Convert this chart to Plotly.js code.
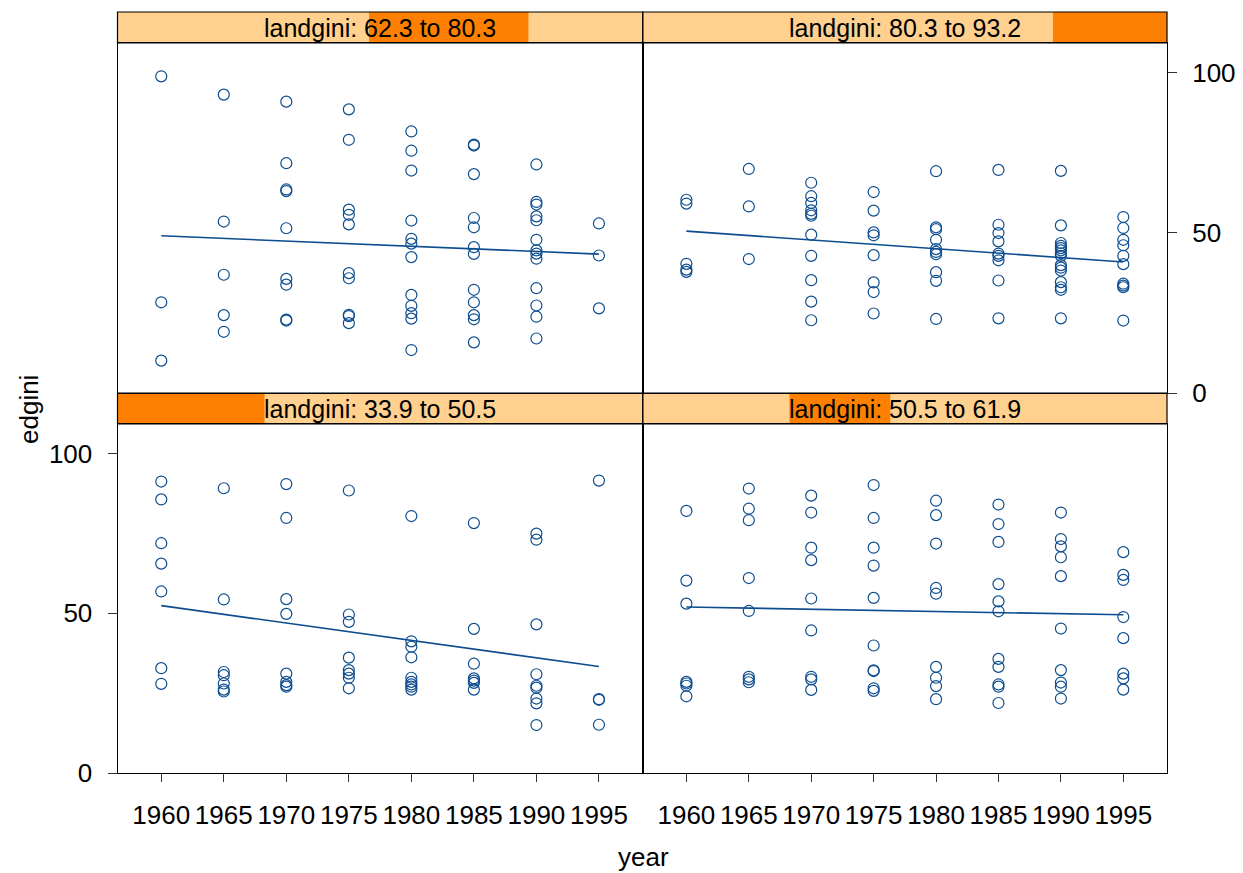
<!DOCTYPE html>
<html>
<head>
<meta charset="utf-8">
<script src="https://cdn.plot.ly/plotly-3.0.1.min.js"></script>
<style>html,body{margin:0;padding:0;background:#fff;}#chart{width:1243px;height:873px;}</style>
</head>
<body>
<div id="chart"></div>
<script>
// ---------- data ----------
const yearTicks = [1960, 1965, 1970, 1975, 1980, 1985, 1990, 1995];

// shingle levels of landgini (panel order: bottom-left, bottom-right, top-left, top-right)
const landginiLevels = [[33.9, 50.5], [50.5, 61.9], [62.3, 80.3], [80.3, 93.2]];

// edgini values per year (index matches yearTicks)
const edginiLow = [ // landgini 33.9 to 50.5
  [91.2, 85.6, 71.9, 65.5, 56.8, 32.8, 27.9],
  [89.1, 54.3, 31.6, 30.6, 28.0, 26.1, 25.5],
  [90.4, 79.8, 54.4, 49.8, 31.1, 28.5, 27.5, 27.0],
  [88.4, 49.6, 47.3, 36.1, 32.2, 31.1, 29.8, 26.5],
  [80.4, 41.2, 39.5, 36.2, 29.8, 28.5, 27.7, 27.0, 26.1],
  [78.2, 45.1, 34.2, 29.6, 28.9, 28.2, 26.1],
  [74.9, 73.0, 46.5, 30.9, 27.3, 26.7, 23.3, 21.8, 15.0],
  [91.5, 23.1, 22.9, 15.1]
];
const edginiMidLow = [ // landgini 50.5 to 61.9
  [82.0, 60.2, 53.0, 28.5, 28.0, 27.3, 24.0],
  [89.0, 82.7, 79.1, 61.0, 50.7, 30.1, 29.3, 28.4],
  [86.8, 81.5, 70.5, 66.6, 54.6, 44.6, 30.1, 29.3, 26.0],
  [90.1, 79.8, 70.5, 64.9, 54.8, 39.9, 32.1, 31.9, 26.5, 25.7],
  [85.2, 80.7, 71.8, 57.9, 56.1, 33.2, 29.8, 27.2, 23.1],
  [84.0, 77.9, 72.3, 59.1, 53.7, 50.6, 35.7, 33.2, 27.7, 27.0, 21.9],
  [81.5, 73.2, 70.9, 67.5, 61.6, 45.2, 32.2, 28.3, 27.0, 23.3],
  [69.1, 62.0, 60.4, 48.8, 42.2, 31.1, 29.6, 26.1]
];
const edginiMidHigh = [ // landgini 62.3 to 80.3
  [98.8, 28.3, 10.1],
  [93.1, 53.5, 36.9, 24.3, 19.1],
  [90.9, 71.7, 63.5, 63.0, 51.4, 35.6, 33.8, 22.9, 22.6],
  [88.5, 79.0, 57.2, 55.6, 52.6, 37.4, 35.8, 24.4, 24.0, 21.8],
  [81.6, 75.6, 69.4, 53.8, 48.1, 46.6, 42.4, 30.6, 27.2, 24.9, 23.2, 13.4],
  [77.5, 77.2, 68.3, 54.6, 51.7, 45.5, 43.4, 32.2, 28.3, 24.3, 23.0, 15.8],
  [71.3, 59.6, 58.8, 55.1, 53.9, 47.8, 44.5, 43.5, 41.9, 32.7, 27.3, 23.8, 17.0],
  [52.9, 42.9, 26.4]
];
const edginiHigh = [ // landgini 80.3 to 93.2
  [60.3, 59.1, 40.3, 38.5, 37.8],
  [69.9, 58.2, 41.8],
  [65.6, 61.4, 59.3, 57.0, 55.9, 55.3, 49.4, 42.8, 35.2, 28.5, 22.7],
  [62.7, 56.9, 50.1, 49.2, 43.0, 34.5, 31.5, 24.8],
  [69.2, 51.7, 51.1, 47.8, 44.9, 44.0, 43.3, 37.7, 35.0, 23.1],
  [69.6, 52.5, 49.9, 47.3, 43.5, 42.8, 41.4, 35.1, 23.3],
  [69.3, 52.3, 46.8, 45.9, 45.2, 44.5, 43.6, 42.8, 39.9, 39.1, 38.2, 34.6, 33.0, 32.2, 23.3],
  [54.9, 51.5, 47.8, 46.1, 42.8, 40.2, 34.1, 33.5, 33.0, 22.6]
];
const yTicks = [0, 50, 100];

// ---------- geometry (pixels) ----------
const W = 1243, H = 873;
const colX = [[117.5, 642.7], [642.7, 1167]];
const rowPlot = {bottom: [424, 773], top: [43, 393]};
const rowStrip = {bottom: [393, 424], top: [12, 43]};
const fx = v => v / W;
const fy = v => 1 - v / H;

const panels = [
  {data: edginiLow,     lev: landginiLevels[0], col: 0, row: 'bottom', ax: ''},
  {data: edginiMidLow,  lev: landginiLevels[1], col: 1, row: 'bottom', ax: '2'},
  {data: edginiMidHigh, lev: landginiLevels[2], col: 0, row: 'top',    ax: '3'},
  {data: edginiHigh,    lev: landginiLevels[3], col: 1, row: 'top',    ax: '4'}
];

const blue = '#0d4d8f';
const stripLight = '#ffd08e';
const stripDark = '#ff8000';
const fontFam = 'Liberation Sans, Arial, sans-serif';

const allLev = landginiLevels.flat();
const levMin = Math.min(...allLev), levMax = Math.max(...allLev);

const traces = [];
const shapes = [];
const annotations = [];
const layout = {
  width: W, height: H,
  margin: {l: 0, r: 0, t: 0, b: 0},
  paper_bgcolor: '#fff', plot_bgcolor: '#fff',
  showlegend: false,
  font: {family: fontFam, color: '#000'}
};

panels.forEach(p => {
  const xs = [], ys = [];
  p.data.forEach((vals, i) => vals.forEach(v => { xs.push(yearTicks[i]); ys.push(v); }));
  traces.push({
    type: 'scatter', mode: 'markers', x: xs, y: ys,
    xaxis: 'x' + p.ax, yaxis: 'y' + p.ax,
    marker: {symbol: 'circle-open', size: 11, color: blue, line: {width: 1.2, color: blue}},
    hoverinfo: 'x+y'
  });
  // least-squares regression line over data range
  const n = xs.length;
  const mx = xs.reduce((a, b) => a + b, 0) / n;
  const my = ys.reduce((a, b) => a + b, 0) / n;
  let sxy = 0, sxx = 0;
  for (let i = 0; i < n; i++) { sxy += (xs[i] - mx) * (ys[i] - my); sxx += (xs[i] - mx) ** 2; }
  const b = sxy / sxx, a = my - b * mx;
  const x0 = Math.min(...xs), x1 = Math.max(...xs);
  traces.push({
    type: 'scatter', mode: 'lines', x: [x0, x1], y: [a + b * x0, a + b * x1],
    xaxis: 'x' + p.ax, yaxis: 'y' + p.ax,
    line: {color: blue, width: 1.6}, hoverinfo: 'skip'
  });

  const cx = colX[p.col], ry = rowPlot[p.row], sy = rowStrip[p.row];
  const isBottom = p.row === 'bottom';
  layout['xaxis' + p.ax] = {
    domain: [fx(cx[0]), fx(cx[1])], anchor: 'y' + p.ax,
    range: [1956.5, 1998.5],
    tickmode: 'array', tickvals: yearTicks, ticktext: yearTicks.map(String),
    ticks: isBottom ? 'outside' : '', ticklen: 8, tickwidth: 1, tickcolor: '#333',
    showticklabels: isBottom, tickfont: {size: 26, family: fontFam, color: '#000'},
    ticklabelstandoff: 11,
    showline: true, mirror: true, linecolor: '#000', linewidth: 1,
    showgrid: false, zeroline: false, fixedrange: true
  };
  const yShow = (p.col === 0 && isBottom) || (p.col === 1 && !isBottom);
  layout['yaxis' + p.ax] = {
    domain: [fy(ry[1]), fy(ry[0])], anchor: 'x' + p.ax,
    range: [0, 109.2],
    side: p.col === 0 ? 'left' : 'right',
    tickmode: 'array', tickvals: yTicks, ticktext: yTicks.map(String),
    ticks: yShow ? 'outside' : '', ticklen: 9, tickwidth: 1, tickcolor: '#333',
    showticklabels: yShow, tickfont: {size: 26, family: fontFam, color: '#000'},
    ticklabelstandoff: 10,
    showline: true, mirror: true, linecolor: '#000', linewidth: 1,
    showgrid: false, zeroline: false, fixedrange: true
  };

  // strip
  const stripW = cx[1] - cx[0];
  const d0 = cx[0] + stripW * (p.lev[0] - levMin) / (levMax - levMin);
  const d1 = cx[0] + stripW * (p.lev[1] - levMin) / (levMax - levMin);
  shapes.push({type: 'rect', xref: 'paper', yref: 'paper', x0: fx(cx[0]), x1: fx(cx[1]), y0: fy(sy[1]), y1: fy(sy[0]),
    fillcolor: stripLight, line: {width: 0}, layer: 'below'});
  shapes.push({type: 'rect', xref: 'paper', yref: 'paper', x0: fx(d0), x1: fx(d1), y0: fy(sy[1]), y1: fy(sy[0]),
    fillcolor: stripDark, line: {width: 0}, layer: 'below'});
  shapes.push({type: 'rect', xref: 'paper', yref: 'paper', x0: fx(cx[0]), x1: fx(cx[1]), y0: fy(sy[1]), y1: fy(sy[0]),
    fillcolor: 'rgba(0,0,0,0)', line: {width: 1.2, color: '#000'}, layer: 'above'});
  annotations.push({xref: 'paper', yref: 'paper', x: fx((cx[0] + cx[1]) / 2), y: fy((sy[0] + sy[1]) / 2 + 0.5),
    text: 'landgini: ' + p.lev[0].toFixed(1) + ' to ' + p.lev[1].toFixed(1),
    showarrow: false, xanchor: 'center', yanchor: 'middle',
    font: {size: 25, family: fontFam, color: '#000'}});
});

annotations.push({xref: 'paper', yref: 'paper', x: fx(643), y: fy(857), text: 'year', showarrow: false,
  xanchor: 'center', yanchor: 'middle', font: {size: 26, family: fontFam, color: '#000'}});
annotations.push({xref: 'paper', yref: 'paper', x: fx(29), y: fy(410), text: 'edgini', showarrow: false, textangle: -90,
  xanchor: 'center', yanchor: 'middle', font: {size: 26, family: fontFam, color: '#000'}});

layout.shapes = shapes;
layout.annotations = annotations;

Plotly.newPlot('chart', traces, layout, {displayModeBar: false, staticPlot: true});
</script>
</body>
</html>
